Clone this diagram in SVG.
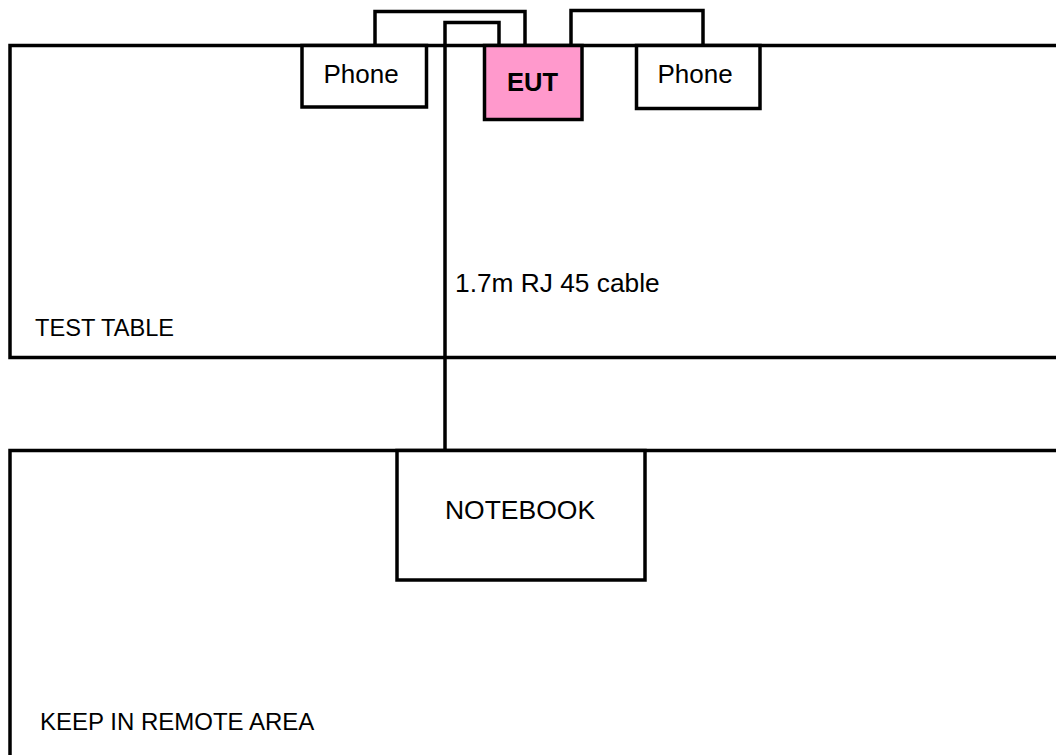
<svg xmlns="http://www.w3.org/2000/svg" width="1056" height="755" viewBox="0 0 1056 755">
<style>
.ln{fill:none;stroke:#000;stroke-width:3.5}
.box{fill:#fff;stroke:#000;stroke-width:3.5}
.t{font-family:"Liberation Sans",Arial,sans-serif;fill:#000}
.tb{font-family:"Liberation Sans",Arial,sans-serif;font-weight:bold;fill:#000}
</style>
<rect width="1056" height="755" fill="#fff"/>
<g id="test-table">
<polyline class="ln" points="1060,45.5 10,45.5 10,357.5 1060,357.5"/>
<text class="t" x="35" y="336" style="font-size:23.6px">TEST TABLE</text>
</g>
<g id="remote-area">
<polyline class="ln" points="1060,450.5 10,450.5 10,760"/>
<text class="t" x="40" y="730" style="font-size:24px">KEEP IN REMOTE AREA</text>
</g>
<g id="connectors">
<polyline class="ln" points="375,45.5 375,11.5 525,11.5 525,45.5"/>
<polyline class="ln" points="571,45.5 571,10.5 703,10.5 703,45.5"/>
<polyline class="ln" points="445,450.5 445,22.5 499,22.5 499,45.5"/>
</g>
<g id="phone-left">
<rect class="box" x="302" y="45.5" width="124.5" height="61.5"/>
<text class="t" x="361" y="83" text-anchor="middle" style="font-size:26px">Phone</text>
</g>
<g id="eut">
<rect x="484.5" y="45.5" width="97.5" height="74" fill="#FF99CC" stroke="#000" stroke-width="3.5"/>
<text class="tb" x="532.5" y="90.5" text-anchor="middle" style="font-size:25.5px">EUT</text>
</g>
<g id="phone-right">
<rect class="box" x="636.5" y="45.5" width="123.5" height="63"/>
<text class="t" x="695" y="83" text-anchor="middle" style="font-size:26px">Phone</text>
</g>
<g id="cable-label">
<text class="t" x="455" y="292" style="font-size:26.3px">1.7m RJ 45 cable</text>
</g>
<g id="notebook">
<rect class="box" x="397" y="450.5" width="248" height="129.5"/>
<text class="t" x="520" y="519" text-anchor="middle" style="font-size:26.5px">NOTEBOOK</text>
</g>
</svg>
